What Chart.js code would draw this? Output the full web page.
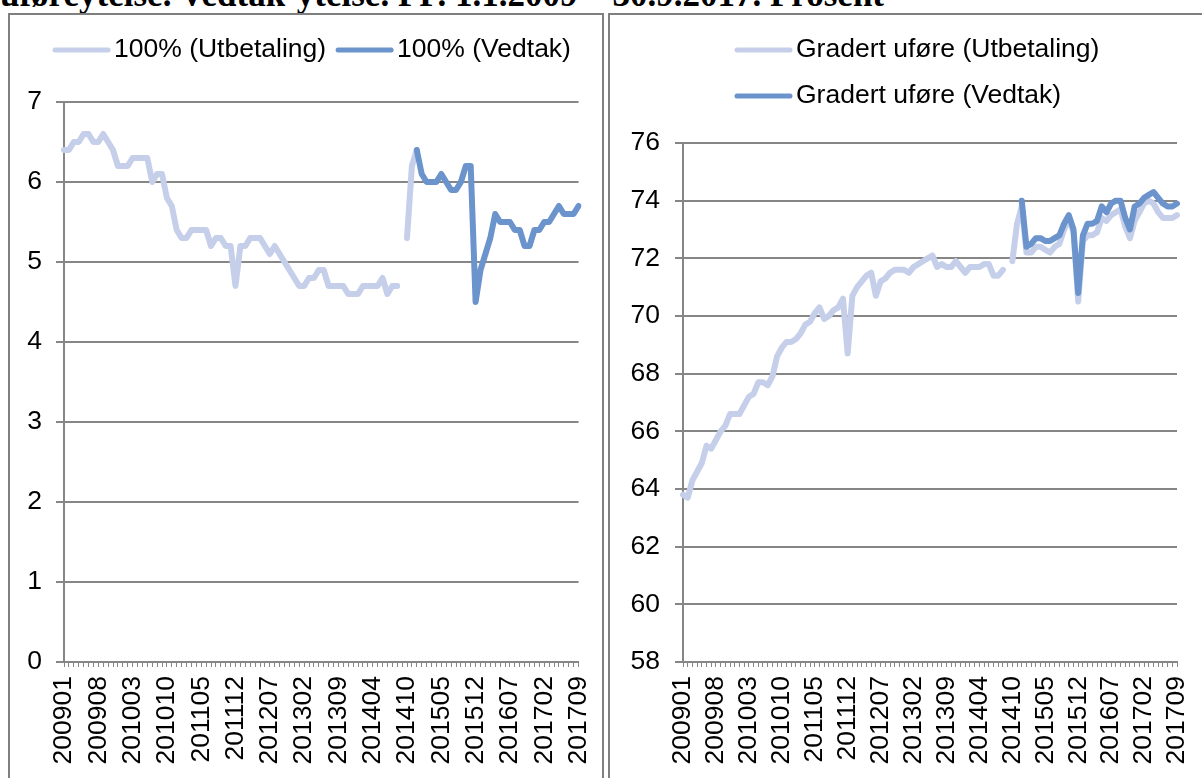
<!DOCTYPE html>
<html>
<head>
<meta charset="utf-8">
<script src="https://cdn.jsdelivr.net/npm/chart.js@4.4.0/dist/chart.umd.min.js"></script>
<style>
  html, body { margin: 0; padding: 0; background: #fff; }
  body { width: 1202px; height: 778px; overflow: hidden; position: relative; }
  #title {
    position: absolute; left: 0; top: -23px; white-space: nowrap; color: #000;
    font: bold 35px "Liberation Serif", "Times New Roman", serif; line-height: 35px;
  }
  .frame { position: absolute; top: 13px; height: 800px; border: 2px solid #7f7f7f; border-bottom: none; box-sizing: border-box; }
  #frameL { left: 8px; width: 596px; }
  #frameR { left: 608px; width: 700px; }
  canvas { position: absolute; top: 14px; }
  #left { left: 10px; }
  #right { left: 612px; }
</style>
</head>
<body>
<div id="title">uføreytelse. Vedtak-ytelse. PP. 1.1.2009 – 30.9.2017. Prosent</div>
<div class="frame" id="frameL"></div>
<div class="frame" id="frameR"></div>
<canvas id="left" width="593" height="764"></canvas>
<canvas id="right" width="590" height="764"></canvas>
<script>
// null shorthand for months without a value
const _ = null;

// categories (one blank row between 201409 and 201410)
const months = [
  '200901','200902','200903','200904','200905','200906','200907','200908','200909','200910','200911','200912',
  '201001','201002','201003','201004','201005','201006','201007','201008','201009','201010','201011','201012',
  '201101','201102','201103','201104','201105','201106','201107','201108','201109','201110','201111','201112',
  '201201','201202','201203','201204','201205','201206','201207','201208','201209','201210','201211','201212',
  '201301','201302','201303','201304','201305','201306','201307','201308','201309','201310','201311','201312',
  '201401','201402','201403','201404','201405','201406','201407','201408','201409','','201410','201411','201412',
  '201501','201502','201503','201504','201505','201506','201507','201508','201509','201510','201511','201512',
  '201601','201602','201603','201604','201605','201606','201607','201608','201609','201610','201611','201612',
  '201701','201702','201703','201704','201705','201706','201707','201708','201709'
];

// left panel: 100 %
const fullUtbetaling = [
  6.4,6.4,6.5,6.5,6.6,6.6,6.5,6.5,6.6,6.5,
  6.4,6.2,6.2,6.2,6.3,6.3,6.3,6.3,6.0,6.1,
  6.1,5.8,5.7,5.4,5.3,5.3,5.4,5.4,5.4,5.4,
  5.2,5.3,5.3,5.2,5.2,4.7,5.2,5.2,5.3,5.3,
  5.3,5.2,5.1,5.2,5.1,5.0,4.9,4.8,4.7,4.7,
  4.8,4.8,4.9,4.9,4.7,4.7,4.7,4.7,4.6,4.6,
  4.6,4.7,4.7,4.7,4.7,4.8,4.6,4.7,4.7,_,
  5.3,6.2,6.4,_,_,_,_,_,_,_,
  _,_,_,_,_,_,_,_,_,_,
  _,_,_,_,_,_,_,_,_,_,
  _,_,_,_,_,_
];
const fullVedtak = [
  _,_,_,_,_,_,_,_,_,_,
  _,_,_,_,_,_,_,_,_,_,
  _,_,_,_,_,_,_,_,_,_,
  _,_,_,_,_,_,_,_,_,_,
  _,_,_,_,_,_,_,_,_,_,
  _,_,_,_,_,_,_,_,_,_,
  _,_,_,_,_,_,_,_,_,_,
  _,_,6.4,6.1,6.0,6.0,6.0,6.1,6.0,5.9,
  5.9,6.0,6.2,6.2,4.5,4.9,5.1,5.3,5.6,5.5,
  5.5,5.5,5.4,5.4,5.2,5.2,5.4,5.4,5.5,5.5,
  5.6,5.7,5.6,5.6,5.6,5.7
];

// right panel: graded
const gradUtbetaling = [
  63.8,63.7,64.3,64.6,64.9,65.5,65.4,65.7,66.0,66.2,
  66.6,66.6,66.6,66.9,67.2,67.3,67.7,67.7,67.6,67.9,
  68.6,68.9,69.1,69.1,69.2,69.4,69.7,69.8,70.1,70.3,
  69.9,70.0,70.2,70.3,70.6,68.7,70.7,71.0,71.2,71.4,
  71.5,70.7,71.2,71.3,71.5,71.6,71.6,71.6,71.5,71.7,
  71.8,71.9,72.0,72.1,71.7,71.8,71.7,71.7,71.9,71.7,
  71.5,71.7,71.7,71.7,71.8,71.8,71.4,71.4,71.6,_,
  71.9,73.2,73.8,72.2,72.2,72.4,72.4,72.3,72.2,72.4,
  72.5,73.0,73.4,72.9,70.5,72.6,72.8,72.8,72.9,73.4,
  73.3,73.5,73.6,73.7,73.1,72.7,73.3,73.6,73.9,74.0,
  73.9,73.6,73.4,73.4,73.4,73.5
];
const gradVedtak = [
  _,_,_,_,_,_,_,_,_,_,
  _,_,_,_,_,_,_,_,_,_,
  _,_,_,_,_,_,_,_,_,_,
  _,_,_,_,_,_,_,_,_,_,
  _,_,_,_,_,_,_,_,_,_,
  _,_,_,_,_,_,_,_,_,_,
  _,_,_,_,_,_,_,_,_,_,
  _,_,74.0,72.4,72.5,72.7,72.7,72.6,72.6,72.7,
  72.8,73.2,73.5,73.0,70.8,72.8,73.2,73.2,73.3,73.8,
  73.6,73.9,74.0,74.0,73.4,73.0,73.8,73.9,74.1,74.2,
  74.3,74.1,73.9,73.8,73.8,73.9
];

const LIGHT = '#c5cfea';
const DARK = '#6b93cc';
const GRID = '#868686';
const FONT = '"Liberation Sans", Arial, sans-serif';
const FONT_SIZE = 26.5;

Chart.defaults.font.family = FONT;
Chart.defaults.font.size = FONT_SIZE;
Chart.defaults.color = '#000';

// legend like the office one: thick line sample, text right after it
const lineLegend = {
  id: 'lineLegend',
  afterDraw(chart, args, opts) {
    const ctx = chart.ctx;
    const sets = chart.data.datasets;
    ctx.save();
    ctx.font = FONT_SIZE + 'px ' + FONT;
    ctx.textBaseline = 'middle';
    ctx.textAlign = 'left';
    opts.rows.forEach((row, r) => {
      const y = opts.top + r * opts.rowHeight;
      const widths = row.map(i => opts.sample + opts.gap + ctx.measureText(sets[i].label).width);
      const total = widths.reduce((a, b) => a + b, 0) + opts.spacing * (row.length - 1);
      let x = opts.left !== undefined ? opts.left : (chart.width - total) / 2;
      row.forEach((i, k) => {
        ctx.strokeStyle = sets[i].borderColor;
        ctx.lineWidth = 5;
        ctx.lineCap = 'round';
        ctx.beginPath();
        ctx.moveTo(x + 2, y);
        ctx.lineTo(x + opts.sample - 2, y);
        ctx.stroke();
        ctx.fillStyle = '#000';
        ctx.fillText(sets[i].label, x + opts.sample + opts.gap, y);
        x += widths[k] + opts.spacing;
      });
    });
    ctx.restore();
  }
};

function makeSeries(label, data, color, order) {
  return {
    label, data,
    borderColor: color,
    backgroundColor: color,
    borderWidth: 6,
    borderJoinStyle: 'round',
    borderCapStyle: 'round',
    pointRadius: 0,
    pointHoverRadius: 0,
    spanGaps: false,
    tension: 0,
    order
  };
}

function makeChart(id, datasets, yMin, yMax, yStep, opt) {
  return new Chart(document.getElementById(id), {
    type: 'line',
    data: { labels: months, datasets },
    options: {
      responsive: false,
      animation: false,
      devicePixelRatio: 1,
      layout: { padding: { top: opt.top, right: opt.right, left: 0, bottom: 0 } },
      plugins: {
        legend: { display: false },
        tooltip: { enabled: false },
        lineLegend: opt.legend
      },
      scales: {
        x: {
          type: 'category',
          afterFit: s => {
            // fixed axis band; the rotated end labels may hang outside the plot
            s.height = 116;
            s.paddingLeft = 0;
            s.paddingRight = 0;
          },
          grid: { display: true, drawOnChartArea: false, drawTicks: true, tickLength: 5, color: GRID, lineWidth: 1 },
          border: { display: true, color: GRID, width: 2 },
          ticks: {
            autoSkip: false,
            minRotation: 90,
            maxRotation: 90,
            padding: 9,
            callback: (v, i) => (i % 7 === 0 ? months[i] : '')
          }
        },
        y: {
          min: yMin,
          max: yMax,
          afterFit: s => { s.width = opt.yWidth; },
          grid: { color: GRID, lineWidth: 2, tickLength: 8 },
          border: { display: true, color: GRID, width: 2 },
          ticks: { stepSize: yStep, padding: opt.yPad }
        }
      }
    },
    plugins: [lineLegend]
  });
}

makeChart('left', [
  makeSeries('100% (Utbetaling)', fullUtbetaling, LIGHT, 2),
  makeSeries('100% (Vedtak)', fullVedtak, DARK, 1)
], 0, 7, 1, {
  top: 88, right: 24.5, yWidth: 54, yPad: 14,
  legend: { rows: [[0, 1]], left: 43, top: 36, rowHeight: 46, sample: 57, gap: 4, spacing: 10 }
});

makeChart('right', [
  makeSeries('Gradert uføre (Utbetaling)', gradUtbetaling, LIGHT, 2),
  makeSeries('Gradert uføre (Vedtak)', gradVedtak, DARK, 1)
], 58, 76, 2, {
  top: 129, right: 25, yWidth: 71, yPad: 15,
  legend: { rows: [[0], [1]], left: 123, top: 36, rowHeight: 46, sample: 57, gap: 4, spacing: 10 }
});
</script>
</body>
</html>
